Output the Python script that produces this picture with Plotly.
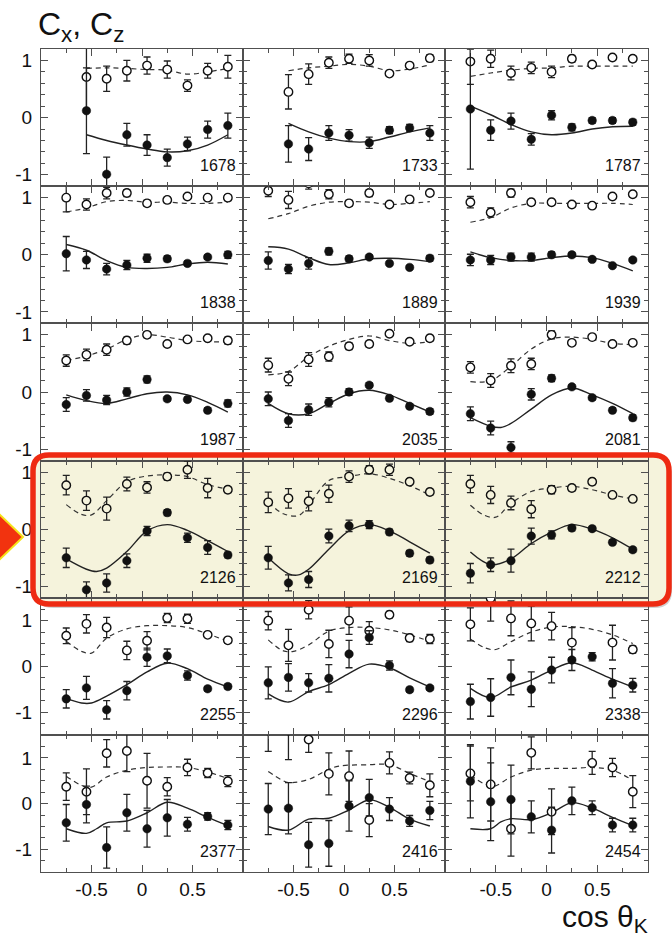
import plotly.graph_objects as go
from plotly.subplots import make_subplots

# ---------------- data ----------------
energies = ["1678", "1733", "1787", "1838", "1889", "1939", "1987", "2035", "2081",
            "2126", "2169", "2212", "2255", "2296", "2338", "2377", "2416", "2454"]

cos_bins = [-0.75, -0.55, -0.35, -0.15, 0.05, 0.25, 0.45, 0.65, 0.85]

# C_x (filled circles)
cx_vals = [
    [None, 0.12, -0.99, -0.30, -0.48, -0.70, -0.46, -0.21, -0.14],
    [None, -0.46, -0.55, -0.27, -0.31, -0.44, -0.22, -0.18, -0.27],
    [0.15, -0.22, -0.06, -0.38, 0.04, -0.17, -0.05, -0.05, -0.08],
    [0.02, -0.09, -0.25, -0.18, -0.06, -0.07, -0.15, -0.04, 0.00],
    [-0.10, -0.25, -0.15, 0.06, -0.07, -0.04, -0.15, -0.22, -0.06],
    [-0.09, -0.09, -0.04, -0.04, 0.00, 0.00, -0.08, -0.19, -0.09],
    [-0.22, -0.06, -0.14, 0.00, 0.22, -0.12, -0.13, -0.32, -0.20],
    [-0.12, -0.50, -0.31, -0.18, 0.00, 0.12, -0.11, -0.25, -0.34],
    [-0.38, -0.63, -0.97, -0.04, 0.24, 0.09, -0.10, -0.32, -0.45],
    [-0.50, -1.06, -0.94, -0.55, -0.03, 0.29, -0.15, -0.32, -0.45],
    [-0.50, -0.94, -0.88, -0.12, 0.06, 0.08, -0.05, -0.42, -0.54],
    [-0.77, -0.62, -0.55, -0.12, -0.10, 0.02, 0.01, -0.23, -0.36],
    [-0.71, -0.47, -0.95, -0.53, 0.20, 0.23, -0.20, -0.49, -0.44],
    [-0.36, -0.24, -0.36, -0.26, 0.27, 0.63, 0.02, -0.51, -0.47],
    [-0.77, -0.68, -0.24, -0.50, -0.08, 0.14, 0.21, -0.37, -0.41],
    [-0.42, -0.02, -0.96, -0.20, -0.55, -0.31, -0.45, -0.28, -0.47],
    [-0.12, -0.10, -0.90, -0.87, -0.05, 0.13, -0.12, -0.38, -0.15],
    [0.49, 0.04, 0.09, -0.29, -0.58, 0.06, -0.09, -0.47, -0.47],
]
cx_errs = [
    [None, 0.75, 0.30, 0.20, 0.18, 0.15, 0.12, 0.15, 0.22],
    [None, 0.32, 0.20, 0.13, 0.10, 0.10, 0.06, 0.06, 0.13],
    [1.05, 0.18, 0.14, 0.10, 0.08, 0.06, 0.05, 0.05, 0.05],
    [0.30, 0.15, 0.10, 0.08, 0.07, 0.05, 0.04, 0.04, 0.06],
    [0.15, 0.08, 0.10, 0.06, 0.05, 0.04, 0.03, 0.03, 0.05],
    [0.10, 0.08, 0.07, 0.07, 0.05, 0.04, 0.03, 0.03, 0.03],
    [0.12, 0.10, 0.08, 0.07, 0.06, 0.04, 0.04, 0.04, 0.06],
    [0.12, 0.12, 0.10, 0.08, 0.06, 0.04, 0.04, 0.04, 0.05],
    [0.12, 0.12, 0.10, 0.10, 0.06, 0.04, 0.04, 0.04, 0.05],
    [0.17, 0.14, 0.16, 0.12, 0.08, 0.05, 0.08, 0.12, 0.05],
    [0.20, 0.14, 0.14, 0.12, 0.10, 0.07, 0.05, 0.05, 0.05],
    [0.17, 0.12, 0.20, 0.14, 0.07, 0.05, 0.04, 0.04, 0.04],
    [0.20, 0.25, 0.20, 0.20, 0.20, 0.15, 0.10, 0.05, 0.05],
    [0.35, 0.30, 0.20, 0.30, 0.30, 0.15, 0.10, 0.05, 0.05],
    [0.38, 0.41, 0.38, 0.38, 0.28, 0.23, 0.09, 0.32, 0.15],
    [0.40, 0.40, 0.45, 0.40, 0.40, 0.40, 0.15, 0.08, 0.10],
    [0.56, 0.56, 0.49, 0.50, 0.55, 0.40, 0.25, 0.12, 0.20],
    [0.80, 0.85, 0.75, 0.35, 0.50, 0.30, 0.15, 0.15, 0.15],
]

# C_z (open circles)
cz_vals = [
    [None, 0.71, 0.68, 0.82, 0.91, 0.84, 0.56, 0.82, 0.89],
    [None, 0.45, 0.76, 0.96, 1.03, 1.00, 0.77, 0.91, 1.04],
    [0.98, 1.03, 0.78, 0.87, 0.80, 1.03, 0.93, 1.05, 1.03],
    [1.00, 0.88, 1.08, 1.08, 0.90, 0.96, 1.02, 1.00, 1.00],
    [1.12, 0.96, 1.25, 1.06, 0.90, 1.08, 0.88, 0.97, 1.08],
    [0.92, 0.74, 1.08, 0.92, 0.92, 0.88, 0.86, 1.02, 1.06],
    [0.55, 0.65, 0.74, 0.90, 1.00, 0.84, 0.92, 0.94, 0.90],
    [0.47, 0.23, 0.57, 0.62, 0.80, 0.84, 1.02, 0.88, 0.94],
    [0.43, 0.20, 0.46, 0.49, 1.00, 0.86, 0.96, 0.84, 0.86],
    [0.77, 0.50, 0.36, 0.79, 0.73, 0.92, 1.04, 0.72, 0.69],
    [0.47, 0.54, 0.49, 0.62, 0.92, 1.04, 1.04, 0.83, 0.65],
    [0.79, 0.60, 0.46, 0.35, 0.69, 0.72, 0.83, 0.60, 0.53],
    [0.67, 0.93, 0.85, 0.35, 0.56, 1.06, 1.04, 0.69, 0.57],
    [1.00, 0.46, 1.24, 0.49, 1.00, 0.78, 1.13, 0.62, 0.60],
    [0.92, 1.49, 1.05, 0.94, 0.88, 0.52, None, 0.52, 0.37],
    [0.37, 0.26, 1.10, 1.15, 0.50, 0.37, 0.79, 0.67, 0.49],
    [1.60, 1.60, 1.40, 0.65, 0.60, -0.36, 0.89, 0.56, 0.40],
    [0.66, 0.42, -0.55, 1.11, -0.18, None, 0.89, 0.79, 0.26],
]
cz_errs = [
    [None, 0.55, 0.22, 0.18, 0.15, 0.15, 0.10, 0.13, 0.20],
    [None, 0.30, 0.18, 0.10, 0.08, 0.10, 0.05, 0.05, 0.06],
    [0.40, 0.15, 0.12, 0.10, 0.10, 0.06, 0.05, 0.05, 0.05],
    [0.25, 0.10, 0.10, 0.06, 0.05, 0.05, 0.04, 0.04, 0.05],
    [0.10, 0.15, 0.10, 0.08, 0.05, 0.06, 0.04, 0.04, 0.04],
    [0.10, 0.08, 0.07, 0.05, 0.05, 0.04, 0.04, 0.04, 0.04],
    [0.10, 0.10, 0.10, 0.06, 0.05, 0.04, 0.04, 0.04, 0.06],
    [0.12, 0.12, 0.12, 0.08, 0.06, 0.05, 0.04, 0.04, 0.05],
    [0.10, 0.12, 0.12, 0.10, 0.07, 0.04, 0.04, 0.04, 0.04],
    [0.17, 0.17, 0.20, 0.12, 0.10, 0.06, 0.15, 0.17, 0.05],
    [0.18, 0.17, 0.17, 0.15, 0.10, 0.07, 0.10, 0.05, 0.05],
    [0.15, 0.15, 0.12, 0.15, 0.07, 0.05, 0.05, 0.04, 0.04],
    [0.17, 0.20, 0.22, 0.20, 0.20, 0.10, 0.10, 0.04, 0.06],
    [0.20, 0.35, 0.20, 0.30, 0.30, 0.20, 0.07, 0.08, 0.10],
    [0.36, 0.50, 0.38, 0.38, 0.30, 0.33, None, 0.38, 0.08],
    [0.30, 0.50, 0.30, 0.45, 0.60, 0.20, 0.18, 0.10, 0.12],
    [0.46, 0.64, 0.28, 0.46, 0.55, 0.36, 0.24, 0.13, 0.25],
    [0.60, 0.80, 0.60, 0.35, 0.50, None, 0.25, 0.20, 0.35],
]

# model curves: C_x (solid)
cx_model_x = [
    [-0.55, -0.35, -0.15, 0.05, 0.25, 0.45, 0.65, 0.85],
    [-0.55, -0.35, -0.15, 0.05, 0.25, 0.45, 0.65, 0.85],
    [-0.75, -0.55, -0.35, -0.15, 0.05, 0.25, 0.45, 0.65, 0.85],
    [-0.75, -0.55, -0.35, -0.15, 0.05, 0.25, 0.45, 0.65, 0.85],
    [-0.75, -0.55, -0.35, -0.15, 0.05, 0.25, 0.45, 0.65, 0.85],
    [-0.75, -0.55, -0.35, -0.15, 0.05, 0.25, 0.45, 0.65, 0.85],
    [-0.75, -0.55, -0.35, -0.15, 0.05, 0.25, 0.45, 0.65, 0.85],
    [-0.75, -0.55, -0.35, -0.15, 0.05, 0.25, 0.45, 0.65, 0.85],
    [-0.75, -0.55, -0.45, -0.35, -0.15, 0.05, 0.25, 0.45, 0.65, 0.85],
    [-0.75, -0.55, -0.45, -0.35, -0.15, 0.05, 0.25, 0.45, 0.65, 0.85],
    [-0.75, -0.55, -0.45, -0.35, -0.15, 0.05, 0.25, 0.45, 0.65, 0.85],
    [-0.75, -0.55, -0.35, -0.15, 0.05, 0.25, 0.45, 0.65, 0.85],
    [-0.75, -0.60, -0.50, -0.35, -0.15, 0.05, 0.25, 0.45, 0.65, 0.85],
    [-0.75, -0.55, -0.35, -0.15, 0.05, 0.25, 0.45, 0.65, 0.85],
    [-0.75, -0.55, -0.35, -0.15, 0.05, 0.25, 0.45, 0.65, 0.85],
    [-0.75, -0.55, -0.45, -0.35, -0.15, 0.05, 0.25, 0.45, 0.65, 0.85],
    [-0.75, -0.55, -0.35, -0.15, 0.05, 0.25, 0.45, 0.65, 0.85],
    [-0.75, -0.55, -0.45, -0.35, -0.15, 0.05, 0.25, 0.45, 0.65, 0.85],
]
cx_model_y = [
    [-0.30, -0.40, -0.48, -0.55, -0.60, -0.58, -0.48, -0.30],
    [-0.10, -0.25, -0.36, -0.42, -0.42, -0.34, -0.25, -0.18],
    [0.20, 0.05, -0.12, -0.25, -0.30, -0.27, -0.20, -0.16, -0.15],
    [0.18, 0.08, -0.10, -0.22, -0.24, -0.22, -0.16, -0.13, -0.16],
    [0.14, 0.10, -0.05, -0.17, -0.14, -0.07, -0.06, -0.08, -0.12],
    [0.05, -0.05, -0.10, -0.10, -0.05, -0.02, -0.05, -0.15, -0.28],
    [-0.05, -0.15, -0.20, -0.12, -0.03, 0.00, -0.05, -0.18, -0.35],
    [-0.20, -0.38, -0.38, -0.20, -0.03, 0.03, -0.05, -0.20, -0.35],
    [-0.45, -0.60, -0.62, -0.55, -0.30, -0.05, 0.07, -0.05, -0.20, -0.38],
    [-0.52, -0.70, -0.74, -0.68, -0.39, -0.03, 0.08, -0.02, -0.20, -0.39],
    [-0.50, -0.78, -0.80, -0.70, -0.35, -0.03, 0.08, -0.03, -0.22, -0.42],
    [-0.40, -0.62, -0.52, -0.25, -0.05, 0.08, 0.00, -0.15, -0.35],
    [-0.70, -0.80, -0.80, -0.65, -0.40, -0.12, 0.07, -0.05, -0.28, -0.45],
    [-0.60, -0.78, -0.55, -0.40, -0.15, 0.05, -0.03, -0.25, -0.45],
    [-0.48, -0.68, -0.45, -0.30, -0.08, 0.08, -0.08, -0.28, -0.45],
    [-0.55, -0.65, -0.55, -0.42, -0.38, -0.20, 0.03, -0.10, -0.30, -0.48],
    [-0.50, -0.58, -0.34, -0.32, -0.14, 0.08, -0.08, -0.34, -0.49],
    [-0.55, -0.55, -0.40, -0.33, -0.35, -0.20, 0.02, -0.10, -0.30, -0.48],
]

# model curves: C_z (dashed)
cz_model_x = [
    [-0.55, -0.35, -0.15, 0.05, 0.25, 0.45, 0.65, 0.85],
    [-0.55, -0.35, -0.15, 0.05, 0.25, 0.45, 0.65, 0.85],
    [-0.75, -0.55, -0.35, -0.15, 0.05, 0.25, 0.45, 0.65, 0.85],
    [-0.75, -0.55, -0.35, -0.15, 0.05, 0.25, 0.45, 0.65, 0.85],
    [-0.75, -0.55, -0.35, -0.15, 0.05, 0.25, 0.45, 0.65, 0.85],
    [-0.75, -0.55, -0.35, -0.15, 0.05, 0.25, 0.45, 0.65, 0.85],
    [-0.75, -0.55, -0.35, -0.15, 0.05, 0.25, 0.45, 0.65, 0.85],
    [-0.75, -0.55, -0.35, -0.15, 0.05, 0.25, 0.45, 0.65, 0.85],
    [-0.75, -0.55, -0.35, -0.15, 0.05, 0.25, 0.45, 0.65, 0.85],
    [-0.75, -0.60, -0.50, -0.35, -0.15, 0.05, 0.25, 0.45, 0.65, 0.85],
    [-0.75, -0.60, -0.45, -0.35, -0.15, 0.05, 0.25, 0.45, 0.65, 0.85],
    [-0.75, -0.62, -0.50, -0.35, -0.15, 0.05, 0.25, 0.45, 0.65, 0.85],
    [-0.75, -0.60, -0.50, -0.35, -0.15, 0.05, 0.25, 0.45, 0.65, 0.85],
    [-0.75, -0.60, -0.50, -0.35, -0.15, 0.05, 0.25, 0.45, 0.65, 0.85],
    [-0.75, -0.60, -0.50, -0.35, -0.15, 0.05, 0.25, 0.45, 0.65, 0.85],
    [-0.75, -0.60, -0.50, -0.35, -0.15, 0.05, 0.25, 0.45, 0.65, 0.85],
    [-0.75, -0.62, -0.55, -0.35, -0.15, -0.05, 0.25, 0.45, 0.65, 0.85],
    [-0.75, -0.62, -0.52, -0.35, -0.15, 0.05, 0.25, 0.45, 0.65, 0.85],
]
cz_model_y = [
    [0.86, 0.87, 0.86, 0.84, 0.83, 0.76, 0.80, 0.86],
    [0.82, 0.87, 0.90, 0.93, 0.90, 0.82, 0.85, 0.92],
    [0.72, 0.78, 0.83, 0.86, 0.87, 0.90, 0.90, 0.90, 0.90],
    [0.75, 0.82, 0.93, 0.95, 0.92, 0.92, 0.90, 0.90, 0.92],
    [0.63, 0.72, 0.85, 0.92, 0.93, 0.92, 0.88, 0.90, 0.93],
    [0.57, 0.65, 0.82, 0.90, 0.90, 0.90, 0.90, 0.90, 0.88],
    [0.55, 0.63, 0.75, 0.92, 1.00, 0.96, 0.90, 0.88, 0.88],
    [0.30, 0.36, 0.62, 0.80, 0.92, 0.98, 0.90, 0.85, 0.88],
    [0.18, 0.20, 0.45, 0.75, 0.93, 0.96, 0.92, 0.85, 0.83],
    [0.43, 0.26, 0.25, 0.50, 0.83, 0.93, 0.95, 0.92, 0.78, 0.70],
    [0.47, 0.27, 0.24, 0.42, 0.85, 0.92, 0.97, 0.89, 0.76, 0.60],
    [0.42, 0.25, 0.21, 0.45, 0.66, 0.72, 0.75, 0.69, 0.60, 0.53],
    [0.55, 0.33, 0.29, 0.62, 0.82, 0.89, 0.89, 0.85, 0.71, 0.55],
    [0.58, 0.34, 0.33, 0.47, 0.77, 0.85, 0.85, 0.80, 0.69, 0.55],
    [0.60, 0.40, 0.37, 0.54, 0.75, 0.86, 0.87, 0.81, 0.69, 0.50],
    [0.60, 0.40, 0.36, 0.58, 0.73, 0.79, 0.80, 0.79, 0.69, 0.55],
    [0.70, 0.52, 0.46, 0.53, 0.75, 0.82, 0.85, 0.85, 0.66, 0.48],
    [0.62, 0.44, 0.38, 0.58, 0.73, 0.77, 0.77, 0.79, 0.73, 0.51],
]

y_tick_vals = [-1, 0, 1]
y_tick_text = ["-1", "0", "1"]
x_tick_vals = [-0.5, 0, 0.5]
x_tick_text = ["-0.5", "0", "0.5"]

# ---------------- layout constants ----------------
W, H = 672, 940
COL_EDGES = [41, 243, 445, 648]
ROW_TOP = 49
ROW_H = 137.2
CREAM = "#f5f3dc"
RED = "#ee2a12"
INK = "#111111"
FRAME = "#505050"
FONT = "Liberation Sans, Arial, sans-serif"

fig = make_subplots(rows=6, cols=3, horizontal_spacing=0, vertical_spacing=0)

for i, label in enumerate(energies):
    r, c = divmod(i, 3)
    bg = CREAM if r == 3 else "white"
    # dashed model (C_z)
    fig.add_trace(go.Scatter(x=cz_model_x[i], y=cz_model_y[i], mode="lines",
                             line=dict(color="#333333", width=1.2, dash="5px,4px", shape="spline"),
                             hoverinfo="skip", showlegend=False), row=r + 1, col=c + 1)
    # solid model (C_x)
    fig.add_trace(go.Scatter(x=cx_model_x[i], y=cx_model_y[i], mode="lines",
                             line=dict(color="#222222", width=1.4, shape="spline"),
                             hoverinfo="skip", showlegend=False), row=r + 1, col=c + 1)
    # open circles (C_z)
    fig.add_trace(go.Scatter(x=cos_bins, y=cz_vals[i], mode="markers",
                             error_y=dict(type="data", array=cz_errs[i], color="#222222",
                                          thickness=1.3, width=3.5),
                             marker=dict(symbol="circle", size=8.5, color=bg,
                                         line=dict(color=INK, width=1.4)),
                             showlegend=False), row=r + 1, col=c + 1)
    # filled circles (C_x)
    fig.add_trace(go.Scatter(x=cos_bins, y=cx_vals[i], mode="markers",
                             error_y=dict(type="data", array=cx_errs[i], color="#222222",
                                          thickness=1.3, width=3.5),
                             marker=dict(symbol="circle", size=8.5, color=INK,
                                         line=dict(color=INK, width=0.5)),
                             showlegend=False), row=r + 1, col=c + 1)

    top_px = ROW_TOP + r * ROW_H
    bot_px = top_px + ROW_H
    yr = [-1.2, 1.2] if r < 4 else [-1.5, 1.5]
    ymin = 0.2 if r < 4 else 0.25

    fig.update_xaxes(range=[-1, 1], domain=[COL_EDGES[c] / W, COL_EDGES[c + 1] / W],
                     showline=True, mirror="ticks", linecolor=FRAME, linewidth=1.2,
                     ticks="inside", ticklen=7, tickwidth=1.2, tickcolor=FRAME,
                     tickvals=x_tick_vals, ticktext=x_tick_text,
                     showticklabels=(r == 5),
                     tickfont=dict(size=19, family=FONT, color=INK),
                     minor=dict(dtick=0.25, tick0=0, ticks="inside", ticklen=4,
                                tickwidth=1.1, tickcolor=FRAME, showgrid=False),
                     showgrid=False, zeroline=False, fixedrange=True,
                     row=r + 1, col=c + 1)
    fig.update_yaxes(range=yr, domain=[1 - bot_px / H, 1 - top_px / H],
                     showline=True, mirror="ticks", linecolor=FRAME, linewidth=1.2,
                     ticks="inside", ticklen=7, tickwidth=1.2, tickcolor=FRAME,
                     tickvals=y_tick_vals, ticktext=y_tick_text,
                     showticklabels=(c == 0), ticklabelstandoff=4,
                     tickfont=dict(size=19, family=FONT, color=INK),
                     minor=dict(dtick=ymin, tick0=0, ticks="inside", ticklen=4,
                                tickwidth=1.1, tickcolor=FRAME, showgrid=False),
                     showgrid=False, zeroline=False, fixedrange=True,
                     row=r + 1, col=c + 1)

    k = i + 1
    xs = "x" if k == 1 else f"x{k}"
    ys = "y" if k == 1 else f"y{k}"
    fig.add_annotation(text=label, xref=f"{xs} domain", yref=f"{ys} domain",
                       x=0.975, y=0.075, xanchor="right", yanchor="bottom",
                       showarrow=False, font=dict(size=16, family=FONT, color=INK))


def px_x(v):
    return v / W


def px_y(v):
    return 1 - v / H


def rounded_rect(x0, y0, x1, y1, rad):
    return (f"M {px_x(x0 + rad)},{px_y(y0)} L {px_x(x1 - rad)},{px_y(y0)} "
            f"Q {px_x(x1)},{px_y(y0)} {px_x(x1)},{px_y(y0 + rad)} "
            f"L {px_x(x1)},{px_y(y1 - rad)} "
            f"Q {px_x(x1)},{px_y(y1)} {px_x(x1 - rad)},{px_y(y1)} "
            f"L {px_x(x0 + rad)},{px_y(y1)} "
            f"Q {px_x(x0)},{px_y(y1)} {px_x(x0)},{px_y(y1 - rad)} "
            f"L {px_x(x0)},{px_y(y0 + rad)} "
            f"Q {px_x(x0)},{px_y(y0)} {px_x(x0 + rad)},{px_y(y0)} Z")


BOX = (33, 455, 669, 604)
shapes = [
    # soft shadow
    dict(type="path", xref="paper", yref="paper", layer="below",
         path=rounded_rect(BOX[0] + 3, BOX[1] + 4, BOX[2] + 3, BOX[3] + 4, 17),
         fillcolor="rgba(0,0,0,0.18)", line=dict(width=0)),
    # cream fill
    dict(type="path", xref="paper", yref="paper", layer="below",
         path=rounded_rect(*BOX, 16), fillcolor=CREAM, line=dict(width=0)),
    # red border
    dict(type="path", xref="paper", yref="paper", layer="above",
         path=rounded_rect(*BOX, 16), fillcolor="rgba(0,0,0,0)",
         line=dict(color=RED, width=5.5)),
    # arrow marker at the left
    dict(type="path", xref="paper", yref="paper", layer="above",
         path=(f"M {px_x(-3)},{px_y(512)} L {px_x(23)},{px_y(537)} "
               f"L {px_x(-3)},{px_y(562)} Z"),
         fillcolor="#f2330f", line=dict(color="#f6e21a", width=2)),
]

fig.update_layout(
    width=W, height=H,
    margin=dict(l=0, r=0, t=0, b=0),
    paper_bgcolor="white",
    plot_bgcolor="rgba(0,0,0,0)",
    showlegend=False,
    shapes=shapes,
    font=dict(family=FONT, color=INK),
)

fig.add_annotation(text="C<sub>x</sub>, C<sub>z</sub>", xref="paper", yref="paper",
                   x=px_x(36), y=px_y(4), xanchor="left", yanchor="top",
                   showarrow=False, font=dict(size=32, family=FONT, color=INK))
fig.add_annotation(text="cos θ<sub>K</sub>", xref="paper", yref="paper",
                   x=px_x(650), y=px_y(918), xanchor="right", yanchor="middle",
                   showarrow=False, font=dict(size=30, family=FONT, color=INK))

fig.write_html("out.html")
